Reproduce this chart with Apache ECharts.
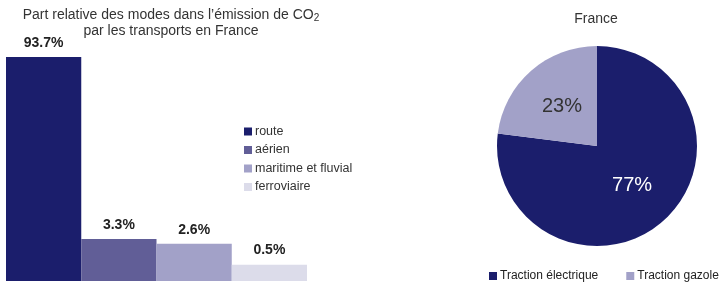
<!DOCTYPE html>
<html>
<head>
<meta charset="utf-8">
<script src="https://cdn.jsdelivr.net/npm/echarts@6/dist/echarts.min.js"></script>
<style>
  html, body { margin: 0; padding: 0; background: #fff; }
  #main { width: 726px; height: 282px; }
</style>
</head>
<body>
<div id="main"></div>
<script>
// modes de transport (barres)
var modes = ['route', 'aérien', 'maritime et fluvial', 'ferroviaire'];
var parts = [93.7, 3.3, 2.6, 0.5];
var modeColors = ['#1b1e6c', '#615e97', '#a2a1c8', '#dcdcea'];

// camembert France
var tractions = ['Traction électrique', 'Traction gazole'];
var tractionParts = [77, 23];
var tractionColors = ['#1b1e6c', '#a2a1c8'];

var font = 'Liberation Sans, Arial, sans-serif';

// le graphique d'origine n'est pas proportionnel : échelle racine carrée
function scale(v) { return Math.sqrt(v); }

var barSeries = modes.map(function (name, i) {
  var data = modes.map(function (m, j) { return j === i ? scale(parts[i]) : null; });
  return {
    name: name,
    type: 'bar',
    stack: 'modes',
    barWidth: '100%',
    data: data,
    itemStyle: { color: modeColors[i] },
    label: {
      show: true,
      position: 'top',
      distance: 7,
      fontFamily: font,
      fontSize: 14,
      fontWeight: 'bold',
      color: '#222',
      formatter: function () { return parts[i] + '%'; }
    }
  };
});

var option = {
  animation: false,
  textStyle: { fontFamily: font },
  title: [
    {
      text: 'Part relative des modes dans l’émission de CO{sub|2}\npar les transports en France',
      left: 166,
      top: 2,
      textAlign: 'center',
      textStyle: {
        fontFamily: font,
        fontSize: 14,
        fontWeight: 'normal',
        color: '#333',
        lineHeight: 16,
        rich: {
          sub: { fontSize: 10, fontFamily: font, color: '#333', padding: [6, 0, 0, 0] }
        }
      }
    },
    {
      text: 'France',
      left: 591,
      top: 7,
      textAlign: 'center',
      textStyle: { fontFamily: font, fontSize: 14, fontWeight: 'normal', color: '#333' }
    }
  ],
  legend: [
    {
      data: modes,
      orient: 'vertical',
      left: 244,
      top: 125,
      padding: 0,
      itemWidth: 8,
      itemHeight: 8,
      itemGap: 5.5,
      icon: 'rect',
      selectedMode: false,
      textStyle: { fontFamily: font, fontSize: 12.5, color: '#333', padding: [0, 0, 0, -2] }
    },
    {
      data: tractions,
      orient: 'horizontal',
      left: 489,
      top: 270,
      padding: 0,
      itemWidth: 8,
      itemHeight: 8,
      itemGap: 28,
      icon: 'rect',
      selectedMode: false,
      textStyle: { fontFamily: font, fontSize: 12, color: '#222', padding: [0, 0, 0, -2] }
    }
  ],
  grid: { left: 6, top: 57, width: 301, bottom: 1 },
  xAxis: {
    type: 'category',
    data: modes,
    show: false
  },
  yAxis: {
    type: 'value',
    min: 0,
    max: scale(parts[0]),
    show: false
  },
  series: barSeries.concat([
    {
      name: 'France',
      type: 'pie',
      center: [597, 146],
      radius: 100,
      startAngle: 90,
      clockwise: true,
      data: tractions.map(function (n, i) {
        return {
          name: n,
          value: tractionParts[i],
          itemStyle: { color: tractionColors[i] },
          label: { color: i === 0 ? '#fff' : '#333' }
        };
      }),
      label: {
        show: true,
        position: 'inside',
        fontFamily: font,
        fontSize: 20,
        formatter: '{c}%'
      },
      labelLine: { show: false },
      emphasis: { disabled: true }
    }
  ])
};

var chart = echarts.init(document.getElementById('main'), null, { renderer: 'canvas' });
chart.setOption(option);
</script>
</body>
</html>
